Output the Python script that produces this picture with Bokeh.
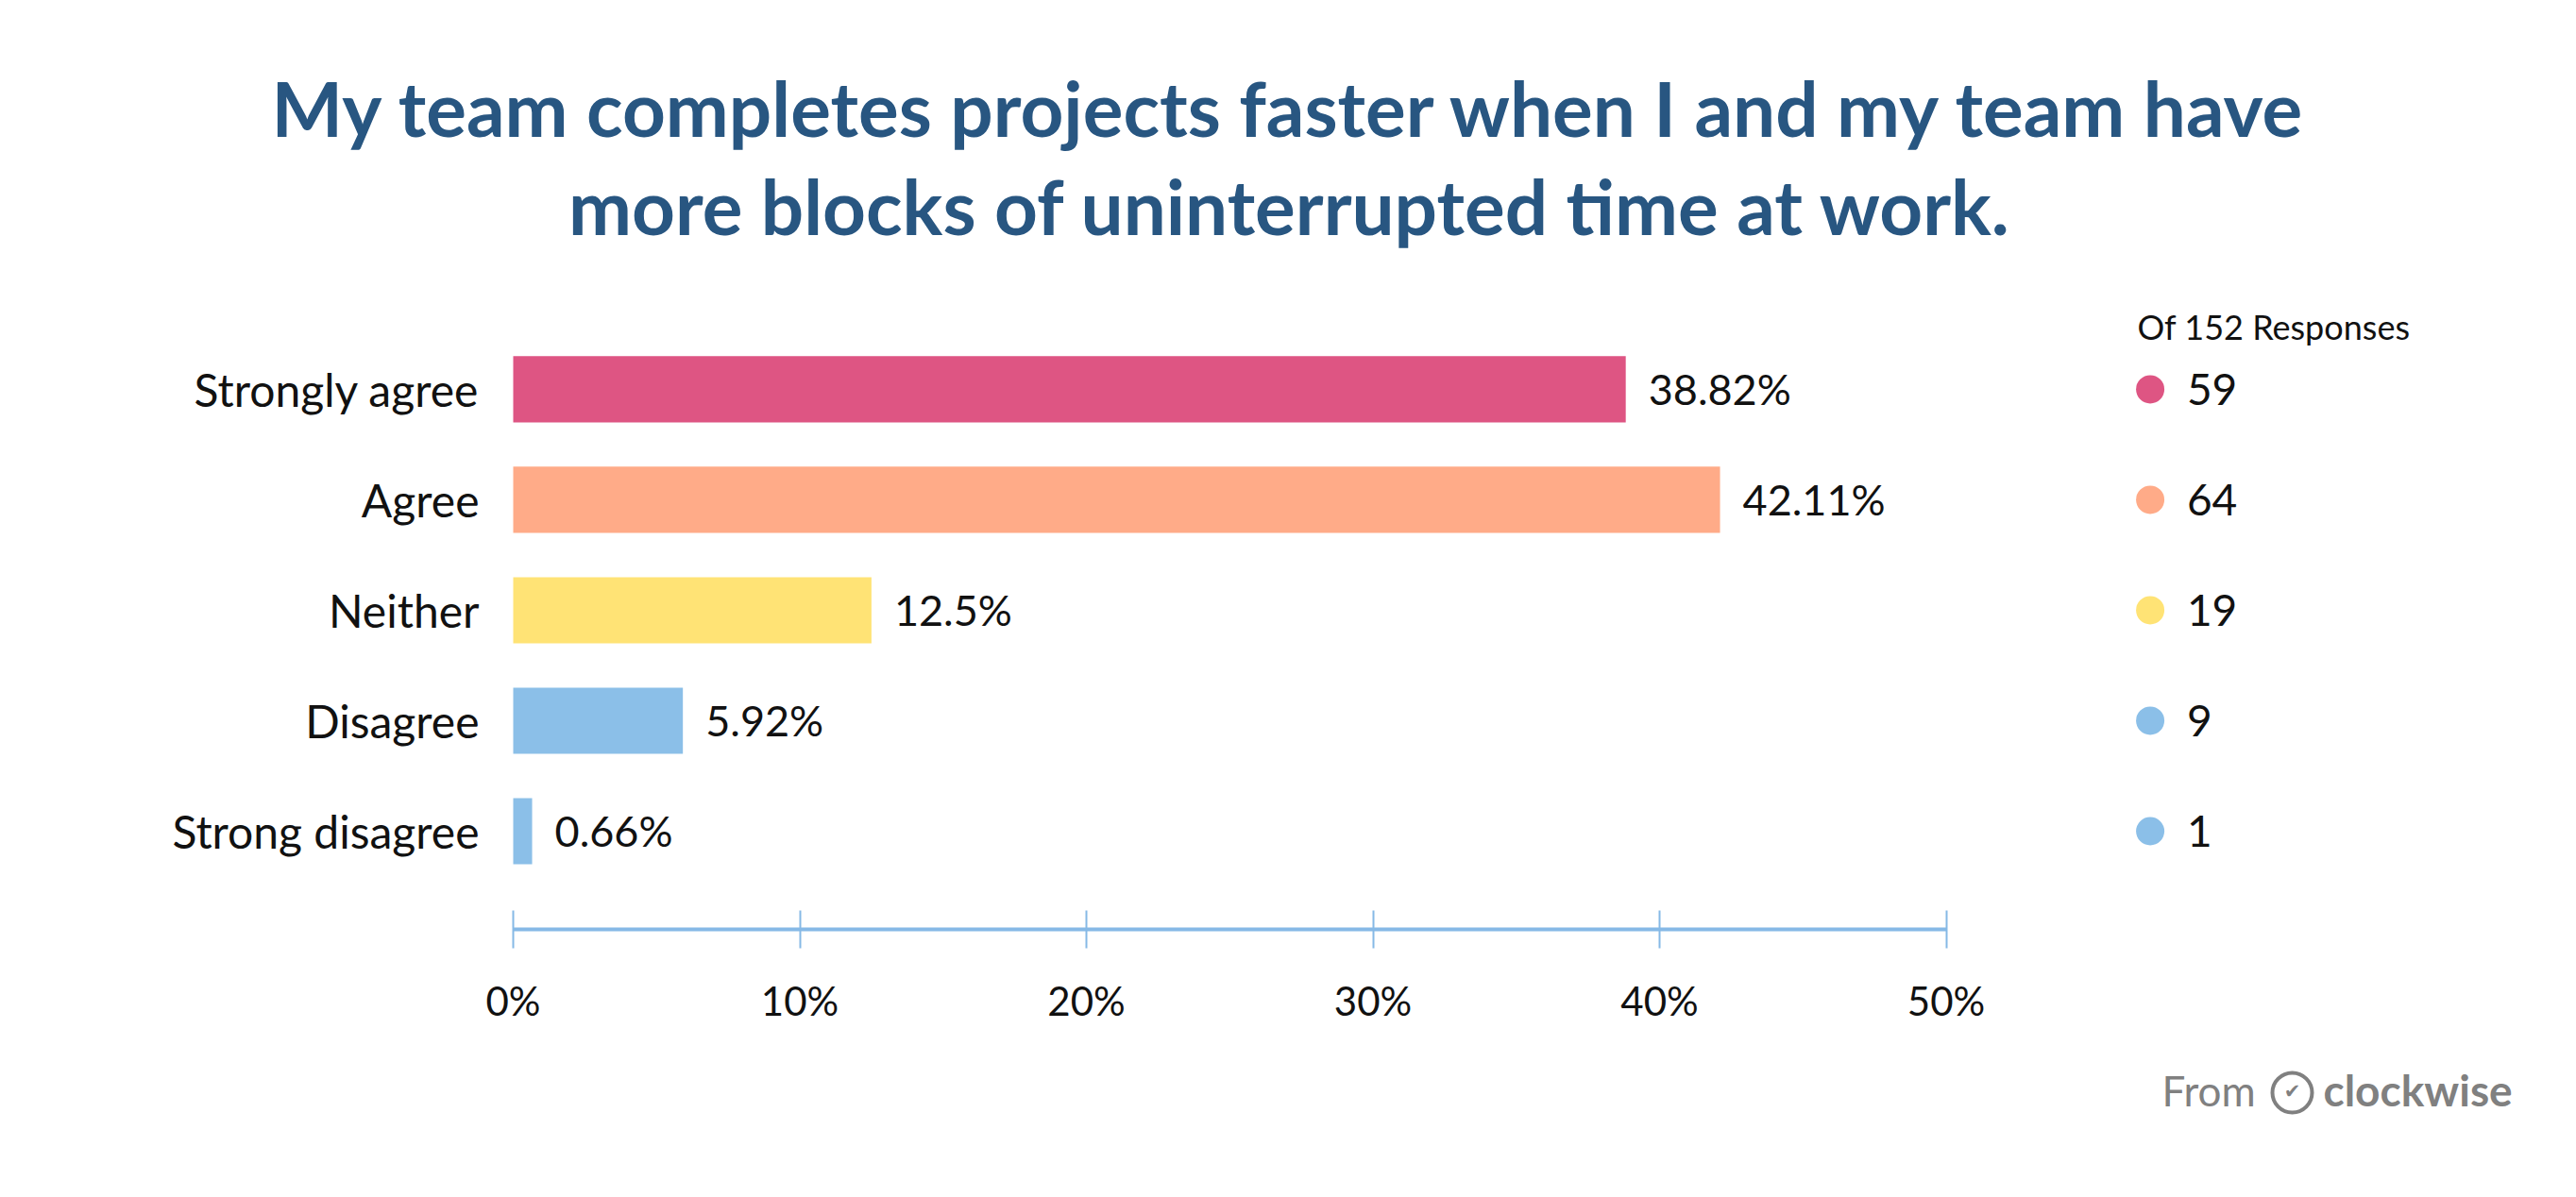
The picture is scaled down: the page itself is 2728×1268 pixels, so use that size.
from bokeh.plotting import figure
from bokeh.models import Range1d, FixedTicker, PrintfTickFormatter
from bokeh.layouts import column
from bokeh.core.properties import value
from bokeh.embed import file_html
from bokeh.resources import INLINE

# ---- data ----
categories = ["Strongly agree", "Agree", "Neither", "Disagree", "Strong disagree"]
percents = [38.82, 42.11, 12.5, 5.92, 0.66]
counts = [59, 64, 19, 9, 1]
total_responses = 152
bar_colors = ["#de5583", "#ffab88", "#ffe375", "#8bbfe8", "#8bbfe8"]
x_ticks = [0, 10, 20, 30, 40, 50]
title_lines = ["My team completes projects faster when I and my team have",
               "more blocks of uninterrupted time at work."]

# ---- style / layout constants ----
FONT = "Lato"
TEXT_COLOR = "#111111"
AXIS_COLOR = "#86b9e6"
TITLE_COLOR = "#285681"
GRAY = "#808080"
W = 2712
MAIN_H = 1110
FOOT_H = 1252 - MAIN_H
PX_PER_PCT = 30.35
FRAME_LEFT = 543

ypos = list(range(len(categories) - 1, -1, -1))

# ---- main chart (title, bars, legend, axis) ----
x_start = -FRAME_LEFT / PX_PER_PCT
x_end = (W - FRAME_LEFT) / PX_PER_PCT
p = figure(width=W, height=MAIN_H, output_backend="svg", toolbar_location=None,
           x_range=Range1d(x_start, x_end), y_range=Range1d(-0.889, 7.521),
           y_axis_location=None,
           min_border_left=0, min_border_right=0, min_border_top=0,
           min_border_bottom=126)
p.outline_line_color = None
p.xgrid.visible = False
p.ygrid.visible = False

# title
TITLE_X = x_start + 1366 / PX_PER_PCT
p.text(x=[TITLE_X, TITLE_X], y=[6.547, 5.658], text=title_lines, text_align="center",
       text_baseline="middle", text_font=value(FONT), text_font_style="bold",
       text_font_size="80px", text_color=TITLE_COLOR)

# bars
p.hbar(y=ypos, left=0, right=percents, height=0.6, fill_color=bar_colors, line_color=None)

# category labels
p.text(x=[0] * len(categories), y=ypos, text=categories, x_offset=-36,
       text_align="right", text_baseline="middle", text_font=value(FONT),
       text_font_size="48px", text_color=TEXT_COLOR)

# value labels
p.text(x=percents, y=ypos, text=[f"{v:g}%" for v in percents], x_offset=24,
       text_baseline="middle", text_align="left", text_font=value(FONT),
       text_font_size="45px", text_color=TEXT_COLOR)

# legend column
LEG_X = 57.12
LEG_NUM_X = 58.4
p.scatter(x=[LEG_X] * len(counts), y=ypos, size=30, fill_color=bar_colors, line_color=None)
p.text(x=[LEG_NUM_X] * len(counts), y=ypos, text=[str(c) for c in counts],
       text_baseline="middle", text_align="left", text_font=value(FONT),
       text_font_size="46px", text_color=TEXT_COLOR)
p.text(x=[LEG_X - 0.45], y=[4.565], text=[f"Of {total_responses} Responses"],
       text_font=value(FONT), text_font_size="36px", text_color=TEXT_COLOR,
       text_align="left", text_baseline="middle")

# x axis
xa = p.xaxis[0]
xa.ticker = FixedTicker(ticks=x_ticks)
xa.formatter = PrintfTickFormatter(format="%d%%")
xa.bounds = (0, 50)
xa.axis_line_color = AXIS_COLOR
xa.axis_line_width = 4
xa.major_tick_line_color = AXIS_COLOR
xa.major_tick_line_width = 2
xa.major_tick_in = 20
xa.major_tick_out = 20
xa.minor_tick_line_color = None
xa.major_label_standoff = 30
xa.major_label_text_font = FONT
xa.major_label_text_font_size = "42px"
xa.major_label_text_color = TEXT_COLOR

# ---- footer "From (✓) clockwise" ----
f = figure(width=W, height=FOOT_H, output_backend="svg", toolbar_location=None,
           x_range=Range1d(0, W), y_range=Range1d(0, FOOT_H),
           x_axis_location=None, y_axis_location=None, min_border=0)
f.outline_line_color = None
f.xgrid.visible = False
f.ygrid.visible = False
f.text(x=[2289], y=[98], text=["From"], text_font=value(FONT), text_font_size="44px",
       text_color=GRAY, text_align="left", text_baseline="middle")
f.scatter(x=[2427], y=[95], size=42, fill_color=None, line_color=GRAY, line_width=4)
f.text(x=[2427], y=[97], text=["\u2714"], text_font=value("DejaVu Sans"),
       text_font_size="21px", text_color=GRAY,
       text_align="center", text_baseline="middle")
f.text(x=[2460], y=[98], text=["clockwise"], text_font=value(FONT), text_font_style="bold",
       text_font_size="46px", text_color=GRAY, text_align="left", text_baseline="middle")

layout = column(p, f, spacing=0)
open("out.html", "w").write(file_html(layout, INLINE))
